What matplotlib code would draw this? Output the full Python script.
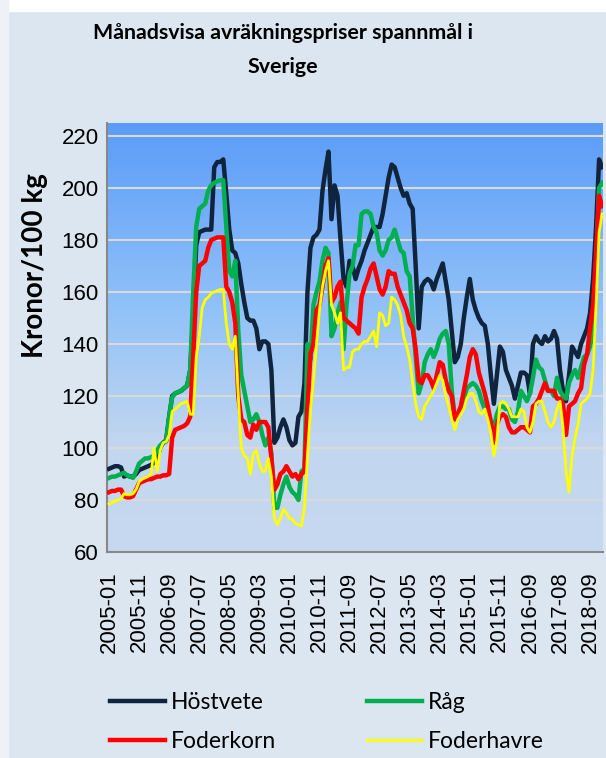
import numpy as np
import matplotlib.pyplot as plt
from matplotlib.colors import LinearSegmentedColormap
from matplotlib.patches import Rectangle

# Tick labels (every 10th month on the category axis)
tick_labels = ["2005-01", "2005-11", "2006-09", "2007-07", "2008-05", "2009-03",
               "2010-01", "2010-11", "2011-09", "2012-07", "2013-05", "2014-03",
               "2015-01", "2015-11", "2016-09", "2017-08", "2018-09"]

# Prices, kronor / 100 kg
hostvete = [92, 92.5, 93, 93, 92.5, 89, 89.5, 89, 89, 90,
            91.5, 92, 92.5, 93, 93.5, 94.5, 96, 100, 102, 103,
            112, 120, 121, 121.5, 122, 123, 124, 130, 150, 178,
            183, 183.5, 184, 184, 184, 208, 210, 210, 211, 198,
            184, 176, 175, 171, 163, 156, 150, 149, 149, 146,
            138, 141, 141, 140, 130, 102, 104, 108, 111, 108,
            103, 101, 102, 112, 114, 125, 160, 177, 181, 182,
            184, 199, 207, 214, 188, 201, 197, 180, 165, 162,
            172, 170, 165, 169, 172, 176, 179, 182, 185, 185,
            185, 190, 197, 204, 209, 208, 204, 200, 197, 198,
            194, 192, 170, 146, 162, 164, 165, 164, 161, 165,
            168, 171, 164, 157, 145, 133, 135, 140, 150, 158,
            165, 157, 153, 150, 148, 147, 140, 128, 117, 128,
            139, 137, 130, 127, 124, 119, 124, 129, 129, 128,
            121, 140, 143, 141, 140, 143, 141, 142, 145, 142,
            130, 122, 118, 128, 139, 137, 135, 140, 143, 146,
            152, 165, 185, 211, 208]

rag = [88.5, 89, 89, 89.5, 90, 90.5, 89.5, 89, 88.5, 91,
       94, 95, 96, 96, 96.5, 97, 99, 101, 102, 102.5,
       112, 119.5, 121, 121.5, 122, 123, 124, 130, 160, 185,
       192, 193, 194, 199, 201, 202, 202.5, 203, 203, 185,
       168, 166, 172, 145, 128, 122, 116, 110, 111, 113,
       110, 105, 101, 104, 98, 77, 77, 82, 86, 89,
       85, 83, 82, 80, 91, 92, 140, 134, 155, 160,
       164, 172, 177, 175, 143, 146, 152, 156, 138, 155,
       167, 170, 178, 178, 190, 191, 191, 190, 185, 183,
       176, 174, 176, 180, 181, 184, 180, 176, 175, 168,
       166, 150, 135, 121, 125, 133, 136, 138, 135, 138,
       142, 144, 145, 140, 122, 112, 113, 114, 119, 123,
       124, 125, 124, 122, 118, 115, 114, 110, 108, 113,
       116, 116, 115, 115, 111, 110, 114, 122, 120, 118,
       121, 127, 134, 131, 130, 126, 122, 122, 120, 127,
       122, 120, 119, 125, 128, 130, 127, 131, 135, 136,
       139, 146, 170, 200, 202]

foderkorn = [83, 83.5, 83.5, 84, 84, 81.5, 81, 81, 81.5, 84,
             86.5, 87, 87.5, 88, 88, 88.5, 89, 89, 89.5, 89.5,
             90, 104, 107, 107.5, 108, 108.5, 109.5, 112, 135, 160,
             170, 171, 172, 177, 180, 180.5, 181, 181, 181, 162,
             160, 156, 148, 120, 111, 110, 105, 104, 109, 107,
             110, 110, 110, 108, 96, 84, 86, 90, 91, 93,
             91, 89, 90, 88, 90, 91, 115, 136, 140, 153,
             155, 162, 170, 173, 156, 158, 162, 164, 150, 149,
             148, 147, 146, 144, 158, 162, 165, 169, 171, 166,
             161, 159, 162, 168, 167, 167, 162, 159, 156, 153,
             148, 146, 138, 126, 125, 128, 128, 126, 123, 128,
             133, 132, 126, 122, 120, 111, 113, 116, 122, 128,
             135, 138, 136, 129, 125, 121, 116, 110, 102, 109,
             112, 113, 112, 108, 106, 106, 107, 108, 108, 107,
             106, 116, 117, 119, 122, 125, 122, 122, 122, 119,
             119, 117, 105, 116, 117, 118, 121, 123, 132, 136,
             146, 155, 175, 197, 193]

foderhavre = [78.5, 79, 79.5, 80, 80.5, 82.5, 82, 82, 82.5, 84,
              87, 88, 88.5, 89, 90, 100, 91, 99, 102, 102.5,
              105, 114, 115, 116, 117, 117.5, 118, 113, 113, 135,
              143, 154, 157, 158, 159.5, 160, 160.5, 161, 161, 148,
              140, 138, 143, 120, 100, 97, 96, 90, 98, 99,
              94, 91, 91, 96, 89, 73, 70.5, 73, 76.5, 75,
              73, 72.5, 71, 70.5, 70, 77, 97, 115, 126, 140,
              153, 162, 168, 172, 155, 152, 148, 152, 130, 131,
              131, 137, 138, 138, 140, 141, 141, 143, 145, 139,
              152, 151, 147, 148, 158, 157, 155, 151, 143, 139,
              134, 125, 117, 112, 111, 116, 118, 120, 122, 125,
              128, 126, 120, 116, 111, 107, 111, 113, 115, 119,
              121, 121, 118, 114, 113, 115, 111, 106, 97, 103,
              117, 118, 117, 115, 112, 112, 112, 115, 114, 108,
              106, 110, 117, 118, 118, 114, 110, 108, 110, 115,
              118, 108, 91, 83, 97, 104, 109, 117, 118, 119,
              121, 130, 155, 183, 190]

x = np.arange(len(hostvete))
xlim = (-0.67, 164.3)

fig = plt.figure(figsize=(6.06, 7.58), dpi=100, facecolor="#dce6f1")
# white margin at top, light strip on the left
fig.patches.append(Rectangle((0, 1 - 11 / 758), 1, 11 / 758, transform=fig.transFigure,
                             color="white", zorder=0))
fig.patches.append(Rectangle((0, 0), 8 / 606, 1, transform=fig.transFigure,
                             color="#eef2f8", zorder=0))

ax = fig.add_axes([107 / 606, 1 - 552 / 758, 496 / 606, 429 / 758])

# gradient plot area
cmap = LinearSegmentedColormap.from_list(
    "bg", [(0, "#5b9cf9"), (0.45, "#93c3f8"), (0.75, "#c2d6ef"), (1, "#c6d9f0")])
grad = np.linspace(0, 1, 256).reshape(-1, 1)
ax.imshow(grad, extent=[xlim[0], xlim[1], 60, 225], aspect="auto", cmap=cmap,
          origin="upper", zorder=0)

l1, = ax.plot(x, hostvete, color="#10243e", lw=3.2, label="Höstvete", zorder=3)
l2, = ax.plot(x, rag, color="#00b050", lw=3.2, label="Råg", zorder=3)
l3, = ax.plot(x, foderkorn, color="#ff0000", lw=3.2, label="Foderkorn", zorder=3)
l4, = ax.plot(x, foderhavre, color="#ffff00", lw=2.0, label="Foderhavre", zorder=3)

ax.set_xlim(*xlim)
ax.set_ylim(60, 225)
ax.set_yticks(range(60, 221, 20))
ax.set_xticks(range(0, 161, 10))
ax.set_xticklabels(tick_labels, rotation=90)
ax.yaxis.grid(True, color="#d9d9d9", lw=1.5)
ax.set_axisbelow(True)
ax.tick_params(axis="x", length=0, pad=14, labelsize=16)
ax.tick_params(axis="y", length=0, pad=6, labelsize=16)
for lab in ax.get_xticklabels() + ax.get_yticklabels():
    lab.set_family("Liberation Sans")

for s in ["top", "right"]:
    ax.spines[s].set_visible(False)
for s in ["left", "bottom"]:
    ax.spines[s].set_color("#888888")
    ax.spines[s].set_linewidth(1.5)

ax.set_ylabel("Kronor/100 kg", fontsize=20, fontweight="bold", family="Lato")
ax.yaxis.set_label_coords(-0.119, 0.667)

fig.text(0.467, 1 - 33 / 758, "Månadsvisa avräkningspriser spannmål i", ha="center",
         va="center", fontsize=15.4, fontweight="bold", family="Lato")
fig.text(0.467, 1 - 67 / 758, "Sverige", ha="center", va="center", fontsize=15.4,
         fontweight="bold", family="Lato")

fig.legend(handles=[l1, l3, l2, l4], ncol=2, loc="upper left",
           bbox_to_anchor=(99 / 606, 1 - 681 / 758), frameon=False,
           prop={"family": "Lato", "size": 16.5}, handlelength=2.4,
           handletextpad=0.22, columnspacing=4.0, labelspacing=0.75, borderpad=0)

fig.savefig("out.png", dpi=100, facecolor=fig.get_facecolor())
